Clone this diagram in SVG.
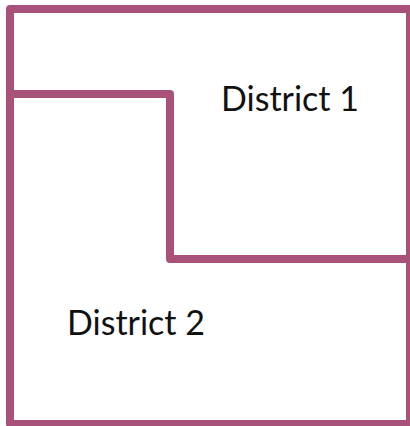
<svg xmlns="http://www.w3.org/2000/svg" width="410" height="426" viewBox="0 0 410 426">
<style>
.b{fill:none;stroke:#A8527A;stroke-width:8;stroke-linejoin:round;stroke-linecap:butt}
.t{font-family:Lato,"Liberation Sans",sans-serif;font-size:34px;fill:#111}
</style>
<rect width="410" height="426" fill="#fff"/>
<g id="district1"><text class="t" x="221" y="111">District 1</text></g>
<g id="district2"><text class="t" x="67" y="335">District 2</text></g>
<g id="connectors">
<rect class="b" x="10" y="9" width="400" height="415"/>
<path class="b" d="M10 94 H170 V259 H410"/>
</g>
</svg>
